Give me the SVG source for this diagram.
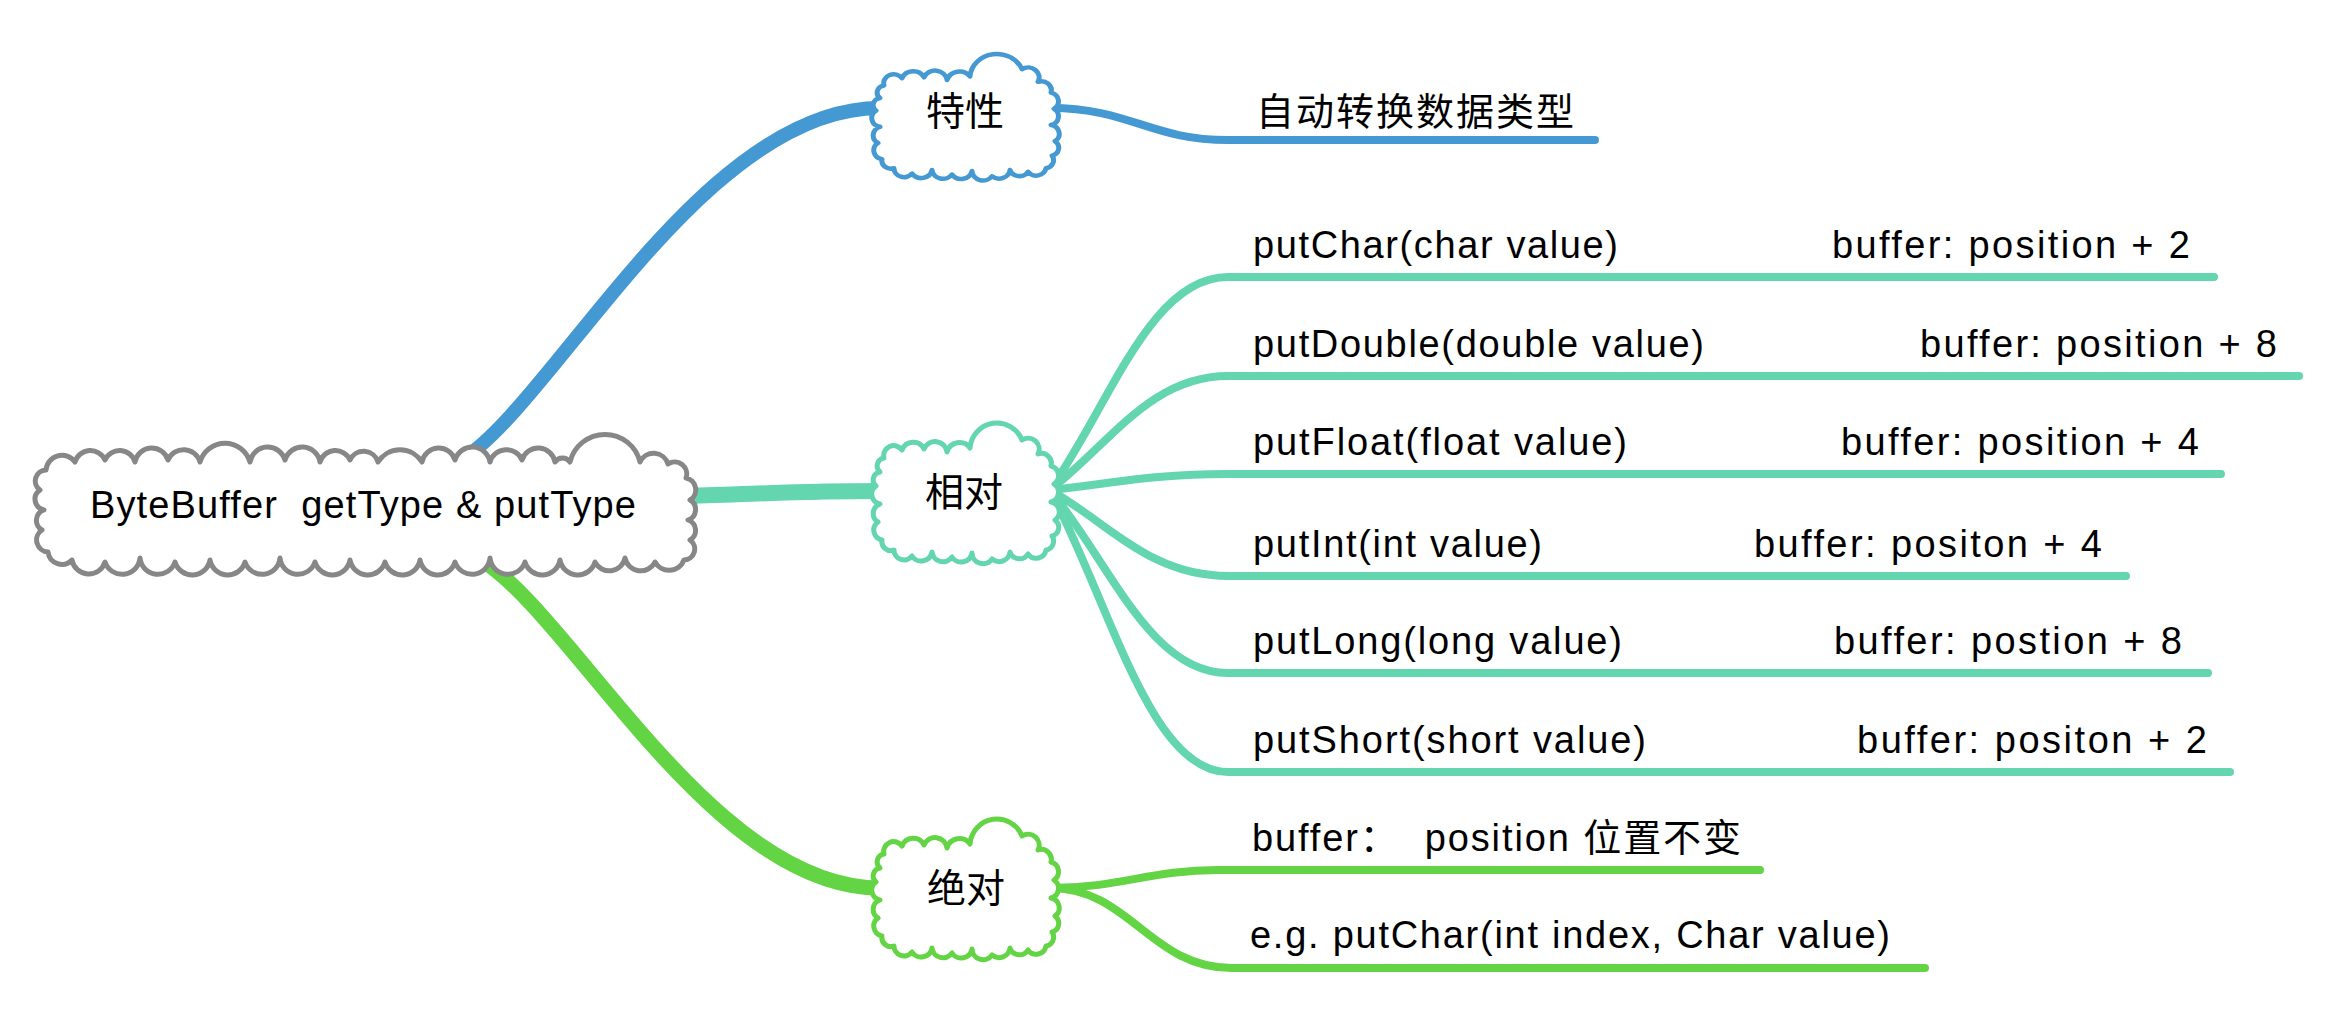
<svg xmlns="http://www.w3.org/2000/svg" xmlns:xlink="http://www.w3.org/1999/xlink" width="2344" height="1018" viewBox="0 0 2344 1018">
<style>
.t { font-family: "Liberation Sans", "Noto Sans CJK SC", sans-serif; font-size: 38px; fill: #000; }
.c { font-family: "Noto Sans CJK SC", sans-serif; font-size: 39px; fill: #000; text-anchor: middle; }
.br { fill: none; stroke-width: 8; stroke-linecap: round; }
.main { fill: none; stroke-linecap: butt; }
.blue { stroke: #4599d3; }
.teal { stroke: #63d5af; }
.green { stroke: #63d444; }
.cloud { fill: #fff; stroke-width: 5; stroke-linejoin: round; }
</style>
<defs>
<path id="smallcloud" d="M 12,36 A 10 10 0 0 1 30,28 A 12 12 0 0 1 52,27 A 12 12 0 0 1 75,30 A 13 13 0 0 1 98,26 A 27 27 0 0 1 150,18 A 11 11 0 0 1 166,32 A 10 10 0 0 1 179,44 A 10 10 0 0 1 182,62 A 10 10 0 0 1 179,80 A 10 10 0 0 1 183,98 A 9 9 0 0 1 180,114 A 9 9 0 0 1 174,128 A 10 10 0 0 1 156,132 A 10 10 0 0 1 138,130 A 11 11 0 0 1 120,137 A 11 11 0 0 1 100,131 A 11 11 0 0 1 80,135 A 11 11 0 0 1 60,130 A 11 11 0 0 1 40,134 A 10 10 0 0 1 22,128 A 9 9 0 0 1 10,118 A 10 10 0 0 1 6,100 A 10 10 0 0 1 8,82 A 10 10 0 0 1 4,64 A 8 8 0 0 1 8,50 A 8 8 0 0 1 12,36 Z"/>
</defs>
<rect width="2344" height="1018" fill="#fff"/>
<g id="connectors">
  <path class="main blue" stroke-width="14" d="M 458,462 C 550,410 700,108 880,108"/>
  <path class="main teal" stroke-width="16" d="M 686,496 C 760,494 800,491 880,491"/>
  <path class="main green" stroke-width="15" d="M 478,558 C 570,610 710,888 880,888"/>
  <path class="br blue" d="M 1050,108 C 1130,108 1150,140 1228,140 H 1595"/>
  <path class="br teal" d="M 1050,490 C 1110,405 1150,277 1228,277 H 2214"/>
  <path class="br teal" d="M 1050,490 C 1110,444 1150,376 1228,376 H 2299"/>
  <path class="br teal" d="M 1050,490 C 1110,484 1150,474 1228,474 H 2221"/>
  <path class="br teal" d="M 1050,490 C 1110,524 1150,576 1228,576 H 2126"/>
  <path class="br teal" d="M 1050,490 C 1110,563 1150,673 1228,673 H 2208"/>
  <path class="br teal" d="M 1050,490 C 1110,603 1150,772 1228,772 H 2230"/>
  <path class="br green" d="M 1050,888 C 1120,888 1150,870 1218,870 H 1760"/>
  <path class="br green" d="M 1050,888 C 1130,888 1150,968 1232,968 H 1925"/>
</g>
<g id="root">
  <path class="cloud" stroke="#878787" d="M 46,470 A 16 16 0 0 1 75,462 A 16 16 0 0 1 105,460 A 16 16 0 0 1 135,462 A 17 17 0 0 1 168,460 A 17 17 0 0 1 200,462 A 26 26 0 0 1 250,462 A 18 18 0 0 1 285,460 A 18 18 0 0 1 320,462 A 16 16 0 0 1 350,460 A 15 15 0 0 1 378,462 A 26 26 0 0 1 422,462 A 17 17 0 0 1 455,460 A 18 18 0 0 1 490,462 A 17 17 0 0 1 522,460 A 17 17 0 0 1 555,462 A 9 9 0 0 1 570,462 A 36 36 0 0 1 640,462 A 15 15 0 0 1 668,464 A 12 12 0 0 1 686,478 A 12 12 0 0 1 690,500 A 11 11 0 0 1 688,520 A 11 11 0 0 1 690,540 A 11 11 0 0 1 684,560 A 16 16 0 0 1 655,562 A 16 16 0 0 1 625,558 A 16 16 0 0 1 595,562 A 18 18 0 0 1 560,560 A 18 18 0 0 1 525,562 A 18 18 0 0 1 490,558 A 18 18 0 0 1 455,562 A 18 18 0 0 1 420,560 A 18 18 0 0 1 385,562 A 18 18 0 0 1 350,560 A 18 18 0 0 1 315,562 A 18 18 0 0 1 280,558 A 18 18 0 0 1 245,562 A 18 18 0 0 1 210,560 A 18 18 0 0 1 175,562 A 18 18 0 0 1 140,558 A 18 18 0 0 1 105,562 A 17 17 0 0 1 72,560 A 14 14 0 0 1 48,552 A 12 12 0 0 1 42,530 A 11 11 0 0 1 44,510 A 11 11 0 0 1 40,490 A 11 11 0 0 1 46,470 Z"/>
  <text class="t" x="90" y="518" textLength="546" xml:space="preserve">ByteBuffer  getType &amp; putType</text>
</g>
<g id="node-texing">
  <use xlink:href="#smallcloud" href="#smallcloud" class="cloud blue" transform="translate(872,53) scale(1,0.9)"/>
  <text class="c" x="965" y="125">特性</text>
</g>
<g id="node-xiangdui">
  <use xlink:href="#smallcloud" href="#smallcloud" class="cloud teal" transform="translate(872,422)"/>
  <text class="c" x="964" y="506">相对</text>
</g>
<g id="node-juedui">
  <use xlink:href="#smallcloud" href="#smallcloud" class="cloud green" transform="translate(872,818)"/>
  <text class="c" x="966" y="902">绝对</text>
</g>
<g id="leaf-auto">
  <text class="t" x="1256" y="125" font-size="40" textLength="318">自动转换数据类型</text>
</g>
<g id="leaf-putchar">
  <text class="t" x="1253" y="258" textLength="365">putChar(char value)</text>
  <text class="t" x="1832" y="258" textLength="358">buffer: position + 2</text>
</g>
<g id="leaf-putdouble">
  <text class="t" x="1253" y="357" textLength="451">putDouble(double value)</text>
  <text class="t" x="1920" y="357" textLength="357">buffer: position + 8</text>
</g>
<g id="leaf-putfloat">
  <text class="t" x="1253" y="455" textLength="374">putFloat(float value)</text>
  <text class="t" x="1841" y="455" textLength="358">buffer: position + 4</text>
</g>
<g id="leaf-putint">
  <text class="t" x="1253" y="557" textLength="289">putInt(int value)</text>
  <text class="t" x="1754" y="557" textLength="348">buffer: positon + 4</text>
</g>
<g id="leaf-putlong">
  <text class="t" x="1253" y="654" textLength="369">putLong(long value)</text>
  <text class="t" x="1834" y="654" textLength="348">buffer: postion + 8</text>
</g>
<g id="leaf-putshort">
  <text class="t" x="1253" y="753" textLength="393">putShort(short value)</text>
  <text class="t" x="1857" y="753" textLength="350">buffer: positon + 2</text>
</g>
<g id="leaf-position">
  <text class="t" x="1252" y="851" textLength="489" xml:space="preserve">buffer：  position 位置不变</text>
</g>
<g id="leaf-eg">
  <text class="t" x="1250" y="948" textLength="640">e.g. putChar(int index, Char value)</text>
</g>
</svg>
